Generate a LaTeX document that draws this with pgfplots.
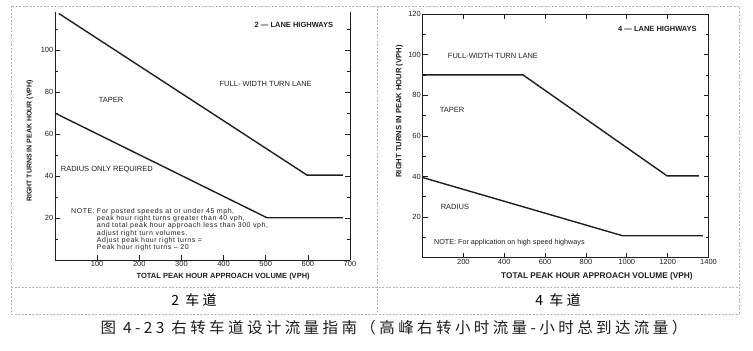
\documentclass[border=0pt]{standalone}
\usepackage{pgfplots}
\pgfplotsset{compat=1.18}
\usepackage{fontspec}
\setmainfont{Liberation Sans}
\newfontfamily\cjk[LetterSpace=22]{Noto Sans CJK SC}
\newfontfamily\notefont[LetterSpace=8]{Liberation Sans}
\definecolor{ink}{HTML}{1E1E1E}
\definecolor{border}{HTML}{B4B4B4}
\pgfplotsset{
  chartstyle/.style={
    scale only axis, anchor=south west,
    axis line style={ink, line width=0.8pt},
    tick style={ink, line width=0.6pt},
    tick align=inside, major tick length=5pt, minor tick length=3pt,
    ticklabel style={font=\fontsize{7.5}{8}\selectfont, text=ink, inner sep=1.5pt},
    /pgf/number format/assume math mode=true,
    /pgf/number format/1000 sep={},
    clip=false,
  },
  curve/.style={ink, line width=1.4pt, line join=miter},
}
\begin{document}
\begin{tikzpicture}
\useasboundingbox (0pt,0pt) rectangle (753pt,351pt);
% table frame
\draw[border, line width=0.6pt, dash pattern=on 2pt off 1.5pt] (11pt,345pt) rectangle (739pt,37pt);
\draw[border, line width=0.6pt, dash pattern=on 2pt off 1.5pt] (377pt,345pt) -- (377pt,37pt);
\draw[border, line width=0.6pt, dash pattern=on 2pt off 1.5pt] (11pt,64pt) -- (739pt,64pt);
\node[font=\cjk\fontsize{14}{16}\selectfont] at (194pt,51pt) {2 车道};
\node[font=\cjk\fontsize{14}{16}\selectfont] at (558pt,51pt) {4 车道};
\node[font=\cjk\fontsize{15.5}{18}\selectfont, text=ink] at (394pt,23pt) {图 4-23 右转车道设计流量指南（高峰右转小时流量-小时总到达流量）};

% left chart: 2-lane
\begin{axis}[chartstyle, at={(55pt,91pt)}, width=295pt, height=248pt,
  xmin=0, xmax=700, ymin=0, ymax=118,
  axis x line*=bottom, axis y line*=box,
  xtick={100,200,...,700}, ytick={20,40,...,100}, minor ytick={10,30,...,110},
  xlabel={TOTAL PEAK HOUR APPROACH VOLUME (VPH)},
  ylabel={RIGHT TURNS IN PEAK HOUR (VPH)},
  xlabel style={at={(axis description cs:0.57,0)}, anchor=center, yshift=-17pt, font=\bfseries\fontsize{7.5}{8}\selectfont, text=ink},
  ylabel style={at={(axis description cs:-0.085,0.48)}, anchor=center, font=\bfseries\fontsize{7}{8}\selectfont, text=ink},
]
\addplot[curve] coordinates {(9,117.3) (598,40.4) (683,40.4)};
\addplot[curve] coordinates {(0,69.9) (503,20.1) (683,20.1)};
\node[font=\bfseries\fontsize{7.5}{8}\selectfont, text=ink] at (axis cs:567,112) {2 — LANE HIGHWAYS};
\node[font=\fontsize{7.5}{8}\selectfont, text=ink] at (axis cs:500,83.6) {FULL- WIDTH TURN LANE};
\node[font=\fontsize{7.5}{8}\selectfont, text=ink] at (axis cs:133,76) {TAPER};
\node[font=\fontsize{7.5}{8}\selectfont, text=ink] at (axis cs:123,43.2) {RADIUS ONLY REQUIRED};
\node[anchor=north west, inner sep=0pt, font=\notefont\fontsize{7}{7}\selectfont, text=ink] at (axis cs:38,24.6) {%
\begin{tabular}{@{}l@{\hspace{0.3em}}l@{}}
NOTE: & For posted speeds at or under 45 mph,\\
 & peak hour right turns greater than 40 vph,\\
 & and total peak hour approach less than 300 vph,\\
 & adjust right turn volumes.\\
 & Adjust peak hour right turns =\\
 & Peak hour right turns – 20
\end{tabular}};
\end{axis}

% right chart: 4-lane
\begin{axis}[chartstyle, at={(422.5pt,93.3pt)}, width=286pt, height=243.7pt,
  xmin=0, xmax=1400, ymin=0, ymax=120,
  xtick={200,400,...,1400}, ytick={20,40,...,120}, minor ytick={10,30,...,110},
  xlabel={TOTAL PEAK HOUR APPROACH VOLUME (VPH)},
  ylabel={RIGHT TURNS IN PEAK HOUR (VPH)},
  xlabel style={at={(axis description cs:0.61,0)}, anchor=center, yshift=-19pt, font=\bfseries\fontsize{8.3}{9}\selectfont, text=ink},
  ylabel style={at={(axis description cs:-0.081,0.60)}, anchor=center, font=\bfseries\fontsize{7.6}{8}\selectfont, text=ink},
]
\addplot[curve] coordinates {(0,90) (492,90) (1197,40.3) (1353,40.3)};
\addplot[curve] coordinates {(0,39.5) (980,10.8) (1373,10.8)};
\node[font=\bfseries\fontsize{7.5}{8}\selectfont, text=ink] at (axis cs:1150,112.6) {4 — LANE HIGHWAYS};
\node[font=\fontsize{7.5}{8}\selectfont, text=ink] at (axis cs:345,99.3) {FULL-WIDTH TURN LANE};
\node[font=\fontsize{7.5}{8}\selectfont, text=ink] at (axis cs:145,72.7) {TAPER};
\node[font=\fontsize{7.5}{8}\selectfont, text=ink] at (axis cs:159,25) {RADIUS};
\node[anchor=west, inner sep=0pt, font=\fontsize{7.2}{8}\selectfont, text=ink] at (axis cs:56,7.2) {NOTE: For application on high speed highways};
\end{axis}
\end{tikzpicture}
\end{document}
